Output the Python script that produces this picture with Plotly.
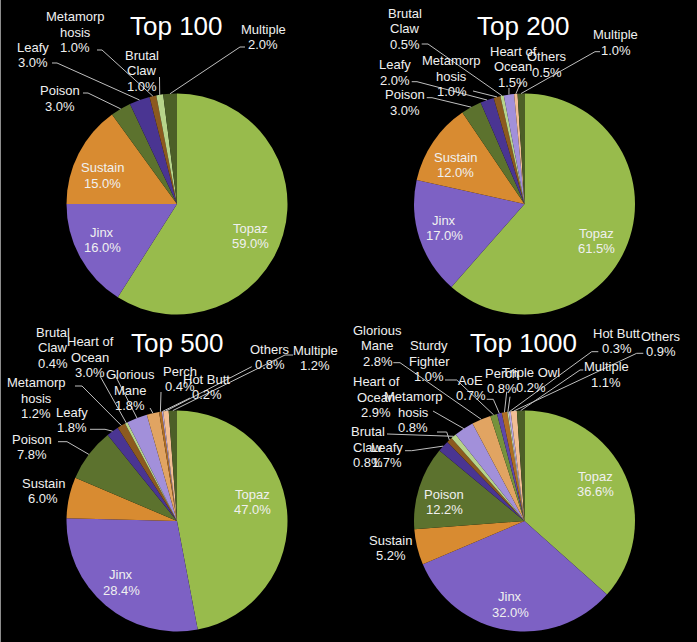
import math
import plotly.graph_objects as go

W, H = 697, 642

# ---------------- data ----------------
top100_labels = ["Topaz", "Jinx", "Sustain", "Poison", "Leafy", "Metamorphosis", "Brutal Claw", "Multiple"]
top100_values = [59.0, 16.0, 15.0, 3.0, 3.0, 1.0, 1.0, 2.0]

top200_labels = ["Topaz", "Jinx", "Sustain", "Poison", "Leafy", "Metamorphosis", "Brutal Claw",
                 "Heart of Ocean", "Others", "Multiple"]
top200_values = [61.5, 17.0, 12.0, 3.0, 2.0, 1.0, 0.5, 1.5, 0.5, 1.0]

top500_labels = ["Topaz", "Jinx", "Sustain", "Poison", "Leafy", "Metamorphosis", "Brutal Claw",
                 "Heart of Ocean", "Glorious Mane", "Perch", "Hot Butt", "Others", "Multiple"]
top500_values = [47.0, 28.4, 6.0, 7.8, 1.8, 1.2, 0.4, 3.0, 1.8, 0.4, 0.2, 0.8, 1.2]

top1000_labels = ["Topaz", "Jinx", "Sustain", "Poison", "Leafy", "Metamorphosis", "Brutal Claw",
                  "Heart of Ocean", "Glorious Mane", "Sturdy Fighter", "AoE", "Perch", "Triple Owl",
                  "Hot Butt", "Others", "Multiple"]
top1000_values = [36.6, 32.0, 5.2, 12.2, 1.7, 0.8, 0.8, 2.9, 2.8, 1.0, 0.7, 0.8, 0.2, 0.3, 0.9, 1.1]

chart_titles = ["Top 100", "Top 200", "Top 500", "Top 1000"]

# wrapped display names (as in the reference labels)
display_names = {
    "Metamorphosis": "Metamorp\nhosis",
    "Brutal Claw": "Brutal\nClaw",
    "Heart of Ocean": "Heart of\nOcean",
    "Glorious Mane": "Glorious\nMane",
    "Sturdy Fighter": "Sturdy\nFighter",
}

# ---------------- styles ----------------
colors = {
    "Topaz": "#98BB4C",
    "Jinx": "#7D61C4",
    "Sustain": "#D88B31",
    "Poison": "#5C722E",
    "Leafy": "#4A3592",
    "Metamorphosis": "#8C5A1E",
    "Brutal Claw": "#B7D48A",
    "Heart of Ocean": "#A290DA",
    "Glorious Mane": "#E1A462",
    "Sturdy Fighter": "#76923C",
    "AoE": "#5E47A8",
    "Perch": "#B06E24",
    "Triple Owl": "#C4D89D",
    "Hot Butt": "#B8A8E2",
    "Others": "#F2BE94",
    "Multiple": "#4C5F27",
}

FONT = "Arial, Liberation Sans, sans-serif"
TXT = "#F0F0F0"
LEADER = "#BFBFBF"
R = 110.5
LINE_H = 15.3

# pie centres (px) and title positions (px)
centers = [(177, 204), (524.5, 204), (177, 521), (524.5, 521)]
title_pos = [(176, 26), (523, 26), (177, 343), (523, 343)]

# label layout: centre of text block (px) and leader-line start points (px)
lay100 = {
    "Topaz": (250, 236, None),
    "Jinx": (102, 240, None),
    "Sustain": (102, 175.5, None),
    "Poison": (60, 98.5, [(83, 93), (88, 93)]),
    "Leafy": (33, 55, [(52, 63), (57, 63)]),
    "Metamorphosis": (75, 32, [(97, 50), (102, 50)]),
    "Brutal Claw": (142, 71, [(159.5, 77)]),
    "Multiple": (263, 37, [(245, 47), (240, 47)]),
}
lay200 = {
    "Topaz": (596.7, 241, None),
    "Jinx": (444.3, 228, None),
    "Sustain": (456, 165, None),
    "Poison": (405, 102.5, [(426.7, 97.7), (432, 97.7)]),
    "Leafy": (395, 72.5, [(411.7, 81.7), (417, 81.7)]),
    "Metamorphosis": (451.7, 76, [(473, 91)]),
    "Brutal Claw": (405, 29, [(421.7, 44), (428, 44)]),
    "Heart of Ocean": (513, 67, [(509, 88)]),
    "Others": (546.7, 64.5, [(521, 82)]),
    "Multiple": (615.7, 42.5, [(600, 51.7), (595, 51.7)]),
}
lay500 = {
    "Topaz": (252.3, 502, None),
    "Jinx": (121, 582.5, None),
    "Sustain": (43.3, 491, None),
    "Poison": (31.7, 447, [(58, 441.7), (67, 441.7)]),
    "Leafy": (71.7, 420, [(90, 429.3), (105, 429.3)]),
    "Metamorphosis": (36, 398, [(75, 386), (82, 386)]),
    "Brutal Claw": (53, 348, [(100, 376)]),
    "Heart of Ocean": (90, 357, [(115, 375)]),
    "Glorious Mane": (130, 390, [(150, 408)]),
    "Perch": (180, 379, [(161, 392)]),
    "Hot Butt": (206.7, 387, [(190, 398)]),
    "Others": (270, 357, [(251.7, 366.7)]),
    "Multiple": (315, 358, [(293, 355), (285, 355)]),
}
lay1000 = {
    "Topaz": (595, 484, None),
    "Jinx": (510, 604.5, None),
    "Poison": (444.3, 502, None),
    "Sustain": (390.7, 548, None),
    "Leafy": (387, 455, [(405, 450.7), (411.7, 450.7)]),
    "Metamorphosis": (413, 412, [(437, 432), (446.7, 432)]),
    "Brutal Claw": (368, 447, [(387, 434)]),
    "Heart of Ocean": (376, 397, [(433, 411)]),
    "Glorious Mane": (377.7, 346, [(393.3, 362.7), (400, 362.7)]),
    "Sturdy Fighter": (429, 361, [(445, 380), (456.7, 380)]),
    "AoE": (470.7, 388, [(486.7, 399.3), (493.3, 399.3)]),
    "Perch": (501.7, 381, [(506.7, 391.7)]),
    "Triple Owl": (531, 380, [(510, 396.7)]),
    "Hot Butt": (616.7, 341, [(598.3, 351.7), (591.7, 351.7)]),
    "Others": (661, 344, [(643.3, 353.3), (636.7, 353.3)]),
    "Multiple": (606, 374.5, [(583.3, 370), (580, 370)]),
}

charts = [
    (top100_labels, top100_values, lay100),
    (top200_labels, top200_values, lay200),
    (top500_labels, top500_values, lay500),
    (top1000_labels, top1000_values, lay1000),
]


def px(x):
    return x / W


def py(y):
    return 1 - y / H


fig = go.Figure()
annotations = []
shapes = []

for i, (labels, values, lay) in enumerate(charts):
    cx, cy = centers[i]
    fig.add_trace(go.Pie(
        labels=labels, values=values, sort=False, direction="clockwise", rotation=0,
        marker=dict(colors=[colors[l] for l in labels], line=dict(width=0)),
        textinfo="none", hoverinfo="label+percent", showlegend=False,
        domain=dict(x=[px(cx - R), px(cx + R)], y=[py(cy + R), py(cy - R)]),
    ))
    total = sum(values)
    cum = 0.0
    for lab, v in zip(labels, values):
        mid = (cum + v / 2) / total
        cum += v
        ang = 2 * math.pi * mid
        ex, ey = cx + R * math.sin(ang), cy - R * math.cos(ang)
        bx, by, lead = lay[lab]
        lines = display_names.get(lab, lab).split("\n") + [f"{v / total * 100:.1f}%"]
        n = len(lines)
        for k, t in enumerate(lines):
            yy = by + (k - (n - 1) / 2) * LINE_H
            annotations.append(dict(
                x=px(bx), y=py(yy), xref="paper", yref="paper", text=t, showarrow=False,
                xanchor="center", yanchor="middle",
                font=dict(family=FONT, size=13, color=TXT),
            ))
        if lead:
            pts = list(lead) + [(ex, ey)]
            path = "M " + " L ".join(f"{px(a):.5f},{py(b):.5f}" for a, b in pts)
            shapes.append(dict(type="path", xref="paper", yref="paper", path=path,
                               line=dict(color=LEADER, width=1)))
    tx, ty = title_pos[i]
    annotations.append(dict(
        x=px(tx), y=py(ty), xref="paper", yref="paper", text=chart_titles[i], showarrow=False,
        xanchor="center", yanchor="middle", font=dict(family=FONT, size=26, color="#FFFFFF"),
    ))

# thin grey frame line on the left edge
shapes.append(dict(type="line", xref="paper", yref="paper", x0=px(0.5), x1=px(0.5), y0=0, y1=1,
                   line=dict(color="#8C8C8C", width=1)))

fig.update_layout(
    width=W, height=H, margin=dict(l=0, r=0, t=0, b=0),
    paper_bgcolor="#000000", plot_bgcolor="#000000",
    annotations=annotations, shapes=shapes,
)

fig.write_html("out.html")
